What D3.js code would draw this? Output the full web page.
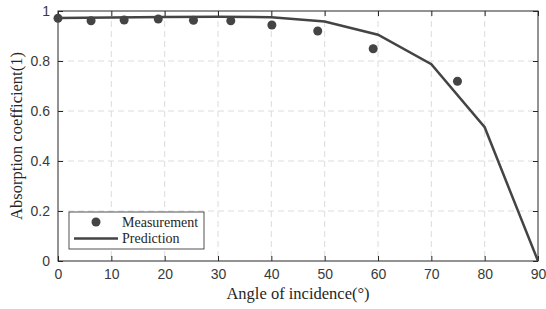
<!DOCTYPE html>
<html>
<head>
<meta charset="utf-8">
<script src="https://cdn.jsdelivr.net/npm/d3@7"></script>
<style>
  body { margin: 0; background: #fff; }
  .tick text { font-family: "Liberation Sans", Arial, sans-serif; font-size: 14px; fill: #3a3a3a; }
  .title { font-family: "Liberation Serif", "Times New Roman", serif; font-size: 16.5px; fill: #262626; }
  .leg { font-family: "Liberation Serif", serif; font-size: 14px; fill: #262626; }
</style>
</head>
<body>
<svg width="546" height="309"></svg>
<script>
// measured points
var measAngle = [0, 6.2, 12.4, 18.8, 25.4, 32.4, 40.1, 48.7, 59.1, 74.9];
var measValue = [0.971, 0.961, 0.964, 0.968, 0.963, 0.961, 0.944, 0.92, 0.849, 0.719];
// predicted curve
var predAngle = [0, 10, 20, 30, 40, 50, 60, 70, 80, 90];
var predValue = [0.972, 0.974, 0.976, 0.977, 0.975, 0.958, 0.905, 0.787, 0.535, 0];

var xTicks = [0, 10, 20, 30, 40, 50, 60, 70, 80, 90];
var yTicks = [0, 0.2, 0.4, 0.6, 0.8, 1];

var svg = d3.select("svg"),
    margin = {top: 11, right: 8, bottom: 48, left: 58},
    width = +svg.attr("width") - margin.left - margin.right,
    height = +svg.attr("height") - margin.top - margin.bottom;

var x = d3.scaleLinear().domain([0, 90]).range([0, width]),
    y = d3.scaleLinear().domain([0, 1]).range([height, 0]);

var g = svg.append("g")
    .attr("transform", "translate(" + margin.left + "," + margin.top + ")");

// grid
g.append("g").selectAll("line")
    .data(xTicks.slice(1, -1))
  .enter().append("line")
    .attr("x1", function(d) { return x(d); }).attr("x2", function(d) { return x(d); })
    .attr("y1", 0).attr("y2", height)
    .attr("stroke", "#dcdcdc").attr("stroke-dasharray", "6,4");
g.append("g").selectAll("line")
    .data(yTicks.slice(1, -1))
  .enter().append("line")
    .attr("y1", function(d) { return y(d); }).attr("y2", function(d) { return y(d); })
    .attr("x1", 0).attr("x2", width)
    .attr("stroke", "#dcdcdc").attr("stroke-dasharray", "6,4");

function styleAxis(sel) {
  sel.select(".domain").remove();
  sel.selectAll(".tick line").attr("stroke", "#262626");
}

// axes, ticks pointing in
g.append("g").attr("transform", "translate(0," + height + ")")
    .call(d3.axisBottom(x).tickValues(xTicks).tickSize(-5).tickPadding(8).tickFormat(d3.format("d")))
    .call(styleAxis);
g.append("g")
    .call(d3.axisLeft(y).tickValues(yTicks).tickSize(-5).tickPadding(8).tickFormat(function(d) { return d === 0 || d === 1 ? d : d.toFixed(1); }))
    .call(styleAxis);
g.append("g")
    .call(d3.axisTop(x).tickValues(xTicks).tickSize(-5).tickFormat(""))
    .call(styleAxis);
g.append("g").attr("transform", "translate(" + width + ",0)")
    .call(d3.axisRight(y).tickValues(yTicks).tickSize(-5).tickFormat(""))
    .call(styleAxis);

g.append("rect")
    .attr("width", width).attr("height", height)
    .attr("fill", "none").attr("stroke", "#262626").attr("stroke-width", 1);

// prediction line
var line = d3.line()
    .x(function(d, i) { return x(predAngle[i]); })
    .y(function(d) { return y(d); });
g.append("path")
    .datum(predValue)
    .attr("d", line)
    .attr("fill", "none").attr("stroke", "#444").attr("stroke-width", 2.5);

// measurement points
g.selectAll(".dot")
    .data(measValue)
  .enter().append("circle")
    .attr("class", "dot")
    .attr("cx", function(d, i) { return x(measAngle[i]); })
    .attr("cy", function(d) { return y(d); })
    .attr("r", 4.5)
    .attr("fill", "#444");

// axis titles
svg.append("text").attr("class", "title")
    .attr("x", 298).attr("y", 299)
    .attr("text-anchor", "middle")
    .text("Angle of incidence(°)");
svg.append("text").attr("class", "title")
    .attr("transform", "translate(22," + (margin.top + height / 2) + ") rotate(-90)")
    .attr("text-anchor", "middle")
    .text("Absorption coefficient(1)");

// legend
var leg = svg.append("g").attr("transform", "translate(69,212)");
leg.append("rect").attr("width", 135).attr("height", 37)
    .attr("fill", "#fff").attr("stroke", "#262626").attr("stroke-width", 0.8);
leg.append("circle").attr("cx", 27).attr("cy", 10).attr("r", 4.5).attr("fill", "#444");
leg.append("line").attr("x1", 5).attr("x2", 49).attr("y1", 26.5).attr("y2", 26.5)
    .attr("stroke", "#444").attr("stroke-width", 2.5);
leg.append("text").attr("class", "leg").attr("x", 53).attr("y", 15).text("Measurement");
leg.append("text").attr("class", "leg").attr("x", 53).attr("y", 31).text("Prediction");
</script>
</body>
</html>
